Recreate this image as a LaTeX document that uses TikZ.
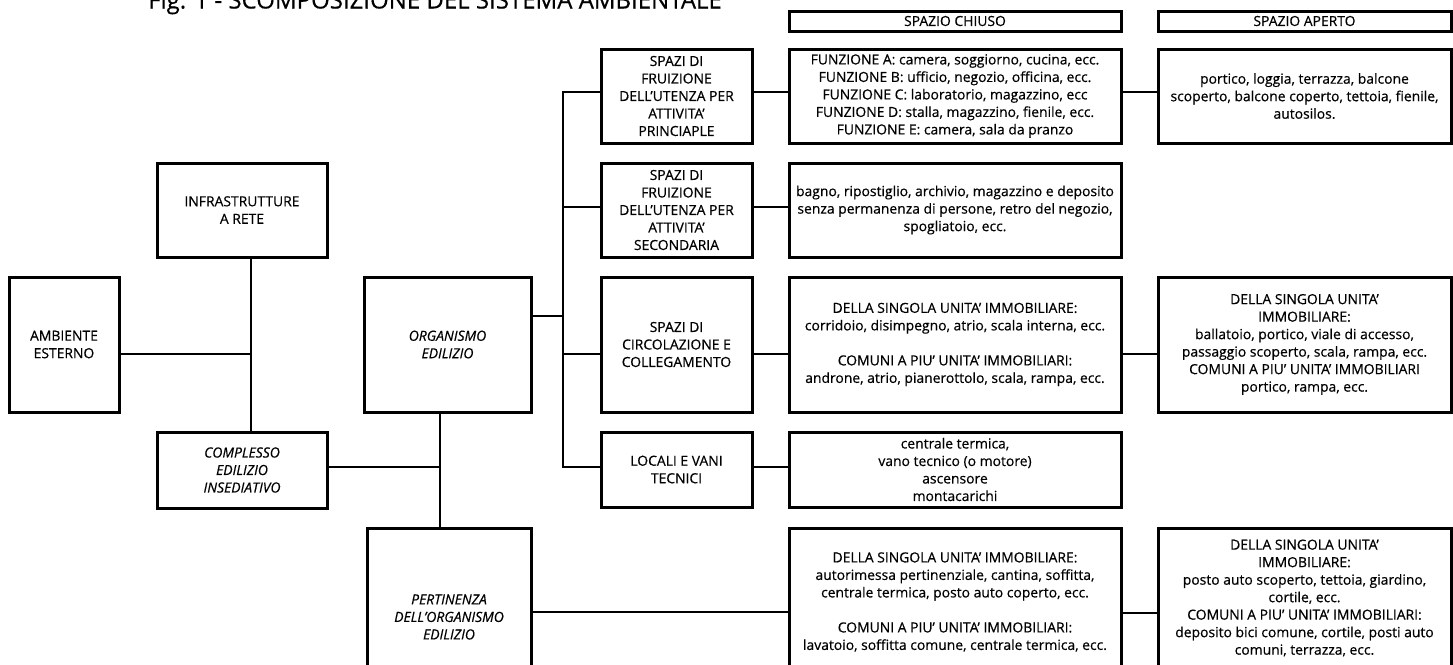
\documentclass[tikz,border=0pt]{standalone}
\usepackage{fontspec}
\setmainfont{Open Sans}
\newfontfamily\bodyfam{Open Sans}[FakeBold=0.5, Ligatures=TeX]
\newcommand\bodyfont{\bodyfam\fontsize{13.9}{17.5}\selectfont}
\tikzset{
  box/.style={draw, line width=3pt, inner sep=0pt, outer sep=0pt, align=center, font=\bodyfont},
  itbox/.style={box, font=\bodyfont\itshape},
  conn/.style={line width=2.8pt},
}
\begin{document}
\begin{tikzpicture}[x=1pt,y=-1pt]
\useasboundingbox (0,0) rectangle (1453,664);
\clip (0,0) rectangle (1453,664);

% title (cut at the top edge)
\node[anchor=base west, inner sep=0pt, font=\bodyfam\fontsize{24}{28}\selectfont] (title) at (148,8.5)
  {Fig. 1 - SCOMPOSIZIONE DEL SISTEMA AMBIENTALE};

% headers
\node[box, minimum width=332pt, minimum height=20pt] (hc) at (955,21) {SPAZIO CHIUSO};
\node[box, minimum width=293pt, minimum height=20pt] (ha) at (1304.5,21) {SPAZIO APERTO};

% left part
\node[box, minimum width=110pt, minimum height=135pt] (amb) at (64,344.5) {AMBIENTE\\ESTERNO};
\node[box, minimum width=170pt, minimum height=94pt] (infra) at (242,210) {INFRASTRUTTURE\\A RETE};
\node[itbox, minimum width=170pt, minimum height=76pt] (comp) at (242,470) {COMPLESSO\\EDILIZIO\\INSEDIATIVO};
\node[itbox, minimum width=167pt, minimum height=135pt] (org) at (447.5,344.5) {ORGANISMO\\EDILIZIO};
\node[itbox, minimum width=164pt, minimum height=178pt] (pert) at (449,617) {PERTINENZA\\DELL'ORGANISMO\\EDILIZIO};

% row 1
\node[box, minimum width=151pt, minimum height=94pt] (s1) at (676.5,96)
  {SPAZI DI\\FRUIZIONE\\DELL'UTENZA PER\\ATTIVITA'\\PRINCIAPLE};
\node[box, minimum width=332pt, minimum height=94pt] (c1) at (955,96)
  {FUNZIONE A: camera, soggiorno, cucina, ecc.\\
   FUNZIONE B: ufficio, negozio, officina, ecc.\\
   FUNZIONE C: laboratorio, magazzino, ecc\\
   FUNZIONE D: stalla, magazzino, fienile, ecc.\\
   FUNZIONE E: camera, sala da pranzo};
\node[box, minimum width=293pt, minimum height=94pt] (a1) at (1304.5,96)
  {portico, loggia, terrazza, balcone\\
   scoperto, balcone coperto, tettoia, fienile,\\
   autosilos.};

% row 2
\node[box, minimum width=151pt, minimum height=94pt] (s2) at (676.5,210)
  {SPAZI DI\\FRUIZIONE\\DELL'UTENZA PER\\ATTIVITA'\\SECONDARIA};
\node[box, minimum width=332pt, minimum height=94pt] (c2) at (955,210)
  {bagno, ripostiglio, archivio, magazzino e deposito\\
   senza permanenza di persone, retro del negozio,\\
   spogliatoio, ecc.};

% row 3
\node[box, minimum width=151pt, minimum height=135pt] (s3) at (676.5,344.5)
  {SPAZI DI\\CIRCOLAZIONE E\\COLLEGAMENTO};
\node[box, minimum width=332pt, minimum height=135pt] (c3) at (955,344.5)
  {DELLA SINGOLA UNITA' IMMOBILIARE:\\
   corridoio, disimpegno, atrio, scala interna, ecc.\\[17.5pt]
   COMUNI A PIU' UNITA' IMMOBILIARI:\\
   androne, atrio, pianerottolo, scala, rampa, ecc.};
\node[box, minimum width=293pt, minimum height=135pt] (a3) at (1304.5,344.5)
  {DELLA SINGOLA UNITA'\\
   IMMOBILIARE:\\
   ballatoio, portico, viale di accesso,\\
   passaggio scoperto, scala, rampa, ecc.\\
   COMUNI A PIU' UNITA' IMMOBILIARI\\
   portico, rampa, ecc.};

% row 4
\node[box, minimum width=151pt, minimum height=75pt] (s4) at (676.5,469.5)
  {LOCALI E VANI\\TECNICI};
\node[box, minimum width=332pt, minimum height=75pt] (c4) at (955,469.5)
  {centrale termica,\\vano tecnico (o motore)\\ascensore\\montacarichi};

% row 5
\node[box, minimum width=332pt, minimum height=148pt] (c5) at (955,602)
  {DELLA SINGOLA UNITA' IMMOBILIARE:\\
   autorimessa pertinenziale, cantina, soffitta,\\
   centrale termica, posto auto coperto, ecc.\\[17.5pt]
   COMUNI A PIU' UNITA' IMMOBILIARI:\\
   lavatoio, soffitta comune, centrale termica, ecc.};
\node[box, minimum width=293pt, minimum height=140pt] (a5) at (1304.5,598)
  {DELLA SINGOLA UNITA'\\
   IMMOBILIARE:\\
   posto auto scoperto, tettoia, giardino,\\
   cortile, ecc.\\
   COMUNI A PIU' UNITA' IMMOBILIARI:\\
   deposito bici comune, cortile, posti auto\\
   comuni, terrazza, ecc.};

% junction coordinates
\coordinate (v1) at (251,354);
\coordinate (v2) at (440,467);
\coordinate (t0) at (563,316);
\coordinate (t1) at (563,92);
\coordinate (t2) at (563,207);
\coordinate (t3) at (563,354);
\coordinate (t4) at (563,467);
\coordinate (r5a) at (0,612);
\coordinate (r5b) at (0,613);

% connectors, left part
\draw[conn] (infra.south -| v1) -- (comp.north -| v1);
\draw[conn] (amb.east |- v1) -- (v1);
\draw[conn] (org.south -| v2) -- (pert.north -| v2);
\draw[conn] (comp.east |- v2) -- (v2);
\draw[conn] (org.east |- t0) -- (t0);

% trunk and branches
\draw[conn] (s1.west |- t1) -- (t1) -- (t4) -- (s4.west |- t4);
\draw[conn] (t2) -- (s2.west |- t2);
\draw[conn] (t3) -- (s3.west |- t3);

% second-level connectors
\draw[conn] (s1.east |- t1) -- (c1.west |- t1);
\draw[conn] (c1.east |- t1) -- (a1.west |- t1);
\draw[conn] (s2.east |- t2) -- (c2.west |- t2);
\draw[conn] (s3.east |- t3) -- (c3.west |- t3);
\draw[conn] (c3.east |- t3) -- (a3.west |- t3);
\draw[conn] (s4.east |- t4) -- (c4.west |- t4);
\draw[conn] (pert.east |- r5a) -- (c5.west |- r5a);
\draw[conn] (c5.east |- r5b) -- (a5.west |- r5b);
\end{tikzpicture}
\end{document}
